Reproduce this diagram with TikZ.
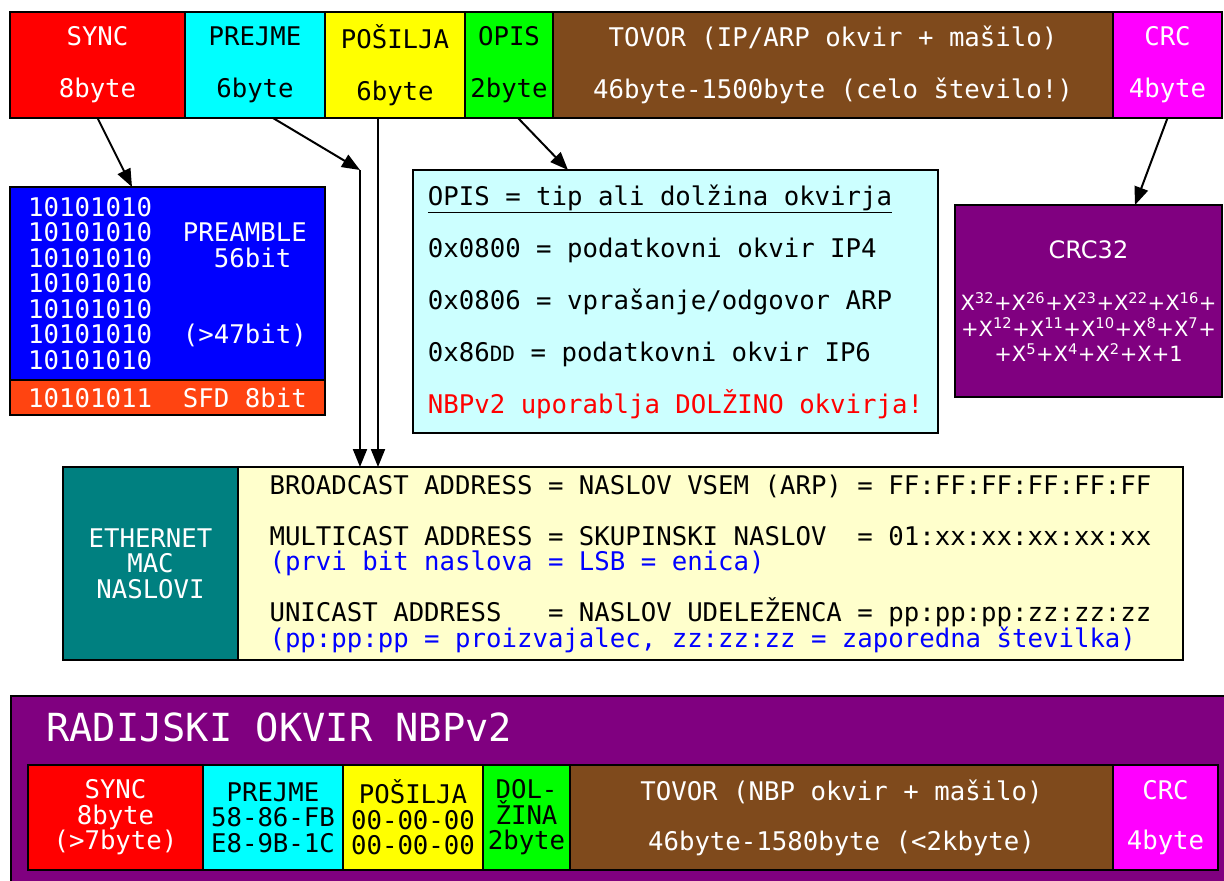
\documentclass[tikz,border=0pt]{standalone}
\usepackage{fontspec}
\setmainfont{DejaVu Sans}
\setsansfont{DejaVu Sans}
\setmonofont{DejaVu Sans Mono}
\usepackage{tikz}
\usetikzlibrary{arrows.meta,positioning,calc}

\definecolor{syncred}{HTML}{FF0000}
\definecolor{dstcyan}{HTML}{00FFFF}
\definecolor{srcyellow}{HTML}{FFFF00}
\definecolor{lengreen}{HTML}{00FF00}
\definecolor{crcpink}{HTML}{FF00FF}
\definecolor{pream}{HTML}{0000FF}
\definecolor{payload}{HTML}{7F4A1C}
\definecolor{sfdred}{HTML}{FF4411}
\definecolor{opisbg}{HTML}{CCFFFF}
\definecolor{macbg}{HTML}{FFFFCC}
\definecolor{radio}{HTML}{800080}
\definecolor{macteal}{HTML}{008080}
\definecolor{noteblue}{HTML}{0000FF}

\newcommand\monowide{\ttfamily\fontsize{25.7}{52}\selectfont\lineskiplimit=-20pt}
\newcommand\monotight{\ttfamily\fontsize{25.7}{25.5}\selectfont\lineskiplimit=-20pt}

\begin{document}
\begin{tikzpicture}[x=1pt, y=-1pt,
  field/.style={draw=black, line width=2pt, inner sep=0pt, outer sep=0pt, align=center, font=\monowide},
  arr/.style={-{Triangle[length=18pt,width=14pt]}, line width=2pt}
]
\clip (0,0) rectangle (1224,881);
\fill[white] (0,0) rectangle (1224,881);

% ethernet frame
\node[field, fill=syncred, text=white, minimum width=175pt, minimum height=106pt, anchor=north west] (sync) at (10,12) {SYNC\\8byte};
\node[field, fill=dstcyan, minimum width=140pt, minimum height=106pt, right=0pt of sync] (prejme) {PREJME\\6byte};
\node[field, fill=srcyellow, minimum width=140pt, minimum height=106pt, right=0pt of prejme] (posilja) {POŠILJA\\6byte};
\node[field, fill=lengreen, minimum width=88pt, minimum height=106pt, right=0pt of posilja] (opis) {OPIS\\2byte};
\node[field, fill=payload, text=white, minimum width=560pt, minimum height=106pt, right=0pt of opis] (tovor) {TOVOR (IP/ARP okvir + mašilo)\\46byte-1500byte (celo število!)};
\node[field, fill=crcpink, text=white, minimum width=109pt, minimum height=106pt, right=0pt of tovor] (crc) {CRC\\4byte};

% preamble + sfd
\node[field, fill=pream, text=white, font=\monotight, align=left, minimum width=315pt, minimum height=193pt, anchor=north west] (preamble) at (10,187)
  {10101010\\10101010\ \ PREAMBLE\\10101010\ \ \ \ 56bit\\10101010\\10101010\\10101010\ \ (>47bit)\\10101010};
\node[field, fill=sfdred, text=white, font=\monotight, minimum width=315pt, minimum height=35pt, below=0pt of preamble] (sfd) {10101011\ \ SFD 8bit};

% type / length field
\node[field, fill=opisbg, align=left, minimum width=525pt, minimum height=263pt, anchor=north west] (opisbox) at (413,170)
  {\underline{OPIS = tip ali dolžina okvirja}\\
   0x0800 = podatkovni okvir IP4\\
   0x0806 = vprašanje/odgovor ARP\\
   0x86{\fontsize{21}{21}\selectfont DD} = podatkovni okvir IP6\\
   \textcolor{red}{NBPv2 uporablja DOLŽINO okvirja!}};

% crc polynomial
\node[field, fill=radio, text=white, font=\sffamily\fontsize{21}{25.5}\selectfont, minimum width=267pt, minimum height=192pt, anchor=north west] (crcbox) at (955,205)
  {{\fontsize{24}{25}\selectfont CRC32}\\[27pt]
   X\textsuperscript{32}+X\textsuperscript{26}+X\textsuperscript{23}+X\textsuperscript{22}+X\textsuperscript{16}+\\
   +X\textsuperscript{12}+X\textsuperscript{11}+X\textsuperscript{10}+X\textsuperscript{8}+X\textsuperscript{7}+\\
   +X\textsuperscript{5}+X\textsuperscript{4}+X\textsuperscript{2}+X+1};

% mac addresses
\node[field, fill=macteal, text=white, font=\monotight, minimum width=175pt, minimum height=193pt, anchor=north west] (mac) at (63,467) {ETHERNET\\MAC\\NASLOVI};
\node[field, fill=macbg, align=left, font=\monotight, minimum width=945pt, minimum height=193pt, right=0pt of mac] (naslovi)
  {BROADCAST ADDRESS = NASLOV VSEM (ARP) = FF:FF:FF:FF:FF:FF\\[25.5pt]
   MULTICAST ADDRESS = SKUPINSKI NASLOV\ \ = 01:xx:xx:xx:xx:xx\\
   \textcolor{noteblue}{(prvi bit naslova = LSB = enica)}\\[25.5pt]
   UNICAST ADDRESS\ \ \ = NASLOV UDELEŽENCA = pp:pp:pp:zz:zz:zz\\
   \textcolor{noteblue}{(pp:pp:pp = proizvajalec, zz:zz:zz = zaporedna številka)}};

% radio frame
\node[draw=black, line width=2pt, fill=radio, inner sep=0pt, minimum width=1240pt, minimum height=200pt, anchor=north west] (radijski) at (10,695) {};
\node[text=white, inner sep=0pt, anchor=base west, font=\ttfamily\fontsize{38.7}{40}\selectfont] (naslov) at (46,741) {RADIJSKI OKVIR NBPv2};
\node[field, fill=syncred, text=white, font=\monotight, minimum width=175pt, minimum height=105pt, anchor=north west] (rsync) at (28,765) {SYNC\\8byte\\(>7byte)};
\node[field, fill=dstcyan, font=\monotight, minimum width=140pt, minimum height=105pt, right=0pt of rsync] (rprejme) {PREJME\\58-86-FB\\E8-9B-1C};
\node[field, fill=srcyellow, font=\monotight, minimum width=140pt, minimum height=105pt, right=0pt of rprejme] (rposilja) {POŠILJA\\00-00-00\\00-00-00};
\node[field, fill=lengreen, font=\monotight, minimum width=87pt, minimum height=105pt, right=0pt of rposilja] (rdolzina) {DOL-\\ŽINA\\2byte};
\node[field, fill=payload, text=white, font=\ttfamily\fontsize{25.7}{50}\selectfont, minimum width=543pt, minimum height=105pt, right=0pt of rdolzina] (rtovor) {TOVOR (NBP okvir + mašilo)\\46byte-1580byte (<2kbyte)};
\node[field, fill=crcpink, text=white, font=\ttfamily\fontsize{25.7}{50}\selectfont, minimum width=105pt, minimum height=105pt, right=0pt of rtovor] (rcrc) {CRC\\4byte};

% connectors
\coordinate (bend) at (360,170);
\coordinate (drop) at ($(posilja.south)+(-17,0)$);
\draw[arr] (sync.south) -- ($(preamble.north west)+(122,0)$);
\draw[arr] ($(prejme.south)+(18,0)$) -- (bend);
\draw[arr] (bend) -- (bend |- naslovi.north);
\draw[arr] (drop) -- (drop |- naslovi.north);
\draw[arr] ($(opis.south)+(9,0)$) -- ($(opisbox.north west)+(155,0)$);
\draw[arr] (crc.south) -- ($(crcbox.north west)+(180,0)$);
\end{tikzpicture}
\end{document}
